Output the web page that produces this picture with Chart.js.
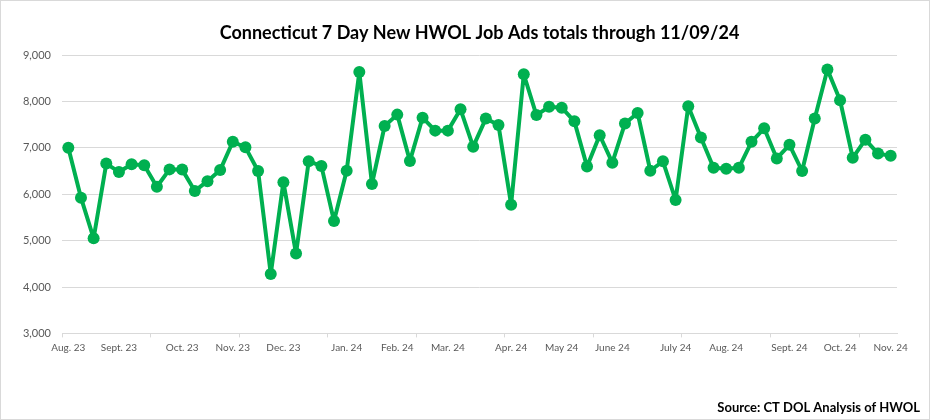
<!DOCTYPE html>
<html>
<head>
<meta charset="utf-8">
<script src="https://cdn.jsdelivr.net/npm/chart.js@4/dist/chart.umd.min.js"></script>
<style>
  body { margin: 0; background: #fff; }
  #wrap { width: 930px; height: 420px; }
</style>
</head>
<body>
<div id="wrap"><canvas id="myChart" width="930" height="420"></canvas></div>
<script>
// weekly new HWOL job ads, Aug 2023 - Nov 2024
const weeklyAds = [
  7000, 5925, 5050, 6660, 6480, 6645, 6625, 6160, 6535, 6530,
  6070, 6280, 6520, 7130, 7010, 6500, 4280, 6260, 4720, 6710,
  6610, 5420, 6505, 8635, 6220, 7470, 7715, 6715, 7650, 7370,
  7370, 7830, 7025, 7630, 7490, 5775, 8585, 7705, 7885, 7865,
  7570, 6595, 7270, 6680, 7525, 7750, 6505, 6710, 5875, 7895,
  7220, 6570, 6550, 6570, 7130, 7420, 6770, 7065, 6500, 7630,
  8690, 8025, 6785, 7175, 6875, 6830
];

// month labels and the week they sit under
const monthLabels = [
  'Aug. 23', 'Sept. 23', 'Oct. 23', 'Nov. 23', 'Dec. 23', 'Jan. 24', 'Feb. 24', 'Mar. 24',
  'Apr. 24', 'May 24', 'June 24', 'July 24', 'Aug. 24', 'Sept. 24', 'Oct. 24', 'Nov. 24'
];
const monthWeek = [0, 4, 9, 13, 17, 22, 26, 30, 35, 39, 43, 48, 52, 57, 61, 65];

const yTicks = [3000, 4000, 5000, 6000, 7000, 8000, 9000];

const labels = weeklyAds.map(() => '');
monthWeek.forEach((w, i) => { labels[w] = monthLabels[i]; });

const green = '#00B050';
const gridGrey = '#d9d9d9';
const fontFamily = 'Lato, "Open Sans", sans-serif';

// white background + thin frame round the whole chart
const frame = {
  id: 'frame',
  beforeDraw(chart) {
    const c = chart.ctx;
    c.save();
    c.fillStyle = '#fff';
    c.fillRect(0, 0, chart.width, chart.height);
    c.strokeStyle = gridGrey;
    c.lineWidth = 1;
    c.strokeRect(0.5, 0.5, chart.width - 1, chart.height - 1);
    c.restore();
  }
};

const config = {
  type: 'line',
  data: {
    labels: labels,
    datasets: [{
      label: '7 Day New HWOL Job Ads',
      data: weeklyAds,
      borderColor: green,
      backgroundColor: green,
      borderWidth: 4,
      borderJoinStyle: 'round',
      borderCapStyle: 'round',
      pointRadius: 6,
      pointHoverRadius: 6,
      pointBorderWidth: 0,
      pointBackgroundColor: green,
      tension: 0,
      fill: false,
      xAxisID: 'x',
      yAxisID: 'y'
    }]
  },
  options: {
    responsive: false,
    animation: false,
    layout: { padding: { left: 0, right: 10, top: 0, bottom: 0 } },
    plugins: {
      legend: { display: false },
      tooltip: { enabled: false },
      title: {
        display: true,
        fullSize: false,
        text: 'Connecticut 7 Day New HWOL Job Ads totals through 11/09/24',
        color: '#000',
        font: { family: fontFamily, size: 18, weight: 'bold' },
        padding: { top: 22, bottom: 11.4 }
      },
      subtitle: {
        display: true,
        position: 'bottom',
        align: 'end',
        text: 'Source: CT DOL Analysis of HWOL',
        color: '#000',
        font: { family: fontFamily, size: 13, weight: 'bold' },
        padding: { top: 37, bottom: 4 }
      }
    },
    scales: {
      x: {
        type: 'category',
        offset: true,
        afterFit(s) { s.height = 30; },
        grid: {
          offset: true,
          drawOnChartArea: false,
          drawTicks: true,
          tickLength: 4,
          color: ctx => (ctx.index % 7 === 0 ? gridGrey : 'rgba(0,0,0,0)')
        },
        border: { display: true, color: gridGrey, width: 1 },
        ticks: {
          autoSkip: false,
          maxRotation: 0,
          minRotation: 0,
          padding: 4,
          color: '#595959',
          font: { family: fontFamily, size: 10 }
        }
      },
      y: {
        type: 'linear',
        position: 'left',
        min: yTicks[0],
        max: yTicks[yTicks.length - 1],
        afterFit(s) { s.width = 62; },
        grid: { color: gridGrey, lineWidth: 1, drawTicks: false },
        border: { display: false },
        ticks: {
          stepSize: 1000,
          padding: 11,
          color: '#595959',
          font: { family: fontFamily, size: 11 },
          callback: v => v.toLocaleString('en-US')
        }
      },
      yPad: {
        type: 'linear',
        position: 'right',
        afterFit(s) { s.width = 23; },
        grid: { display: false },
        border: { display: false },
        ticks: { display: false }
      }
    }
  },
  plugins: [frame]
};

const myChart = new Chart(document.getElementById('myChart'), config);
</script>
</body>
</html>
